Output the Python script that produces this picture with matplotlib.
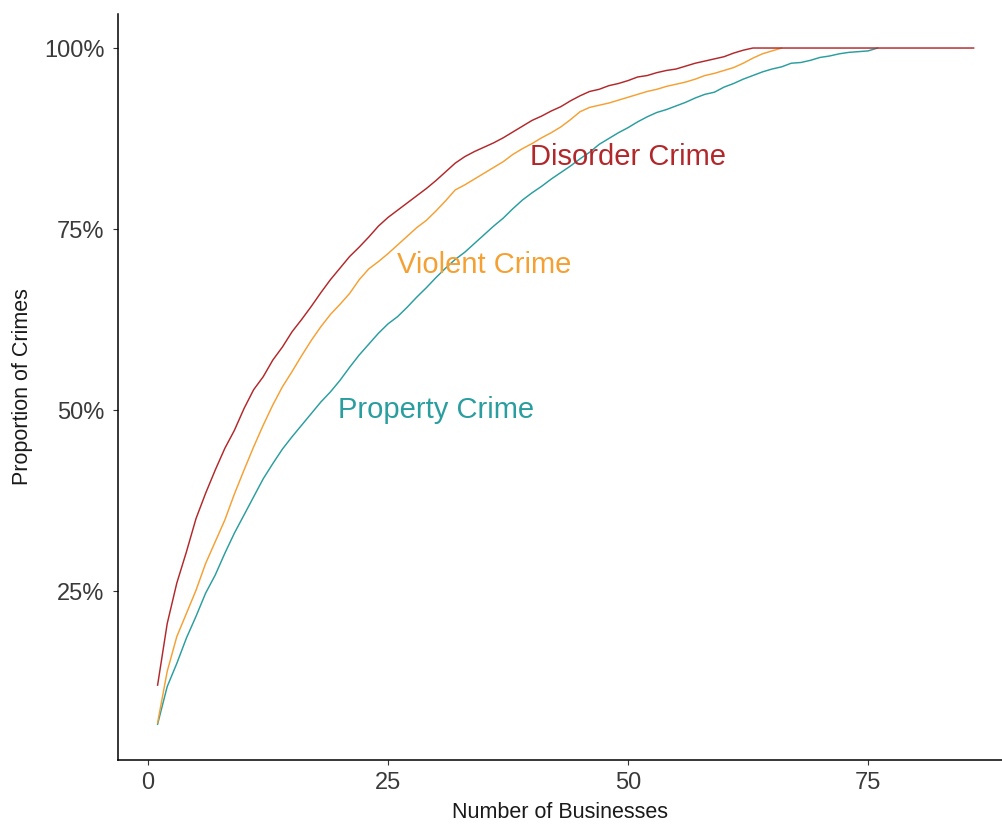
import matplotlib
matplotlib.use("Agg")
import matplotlib.pyplot as plt
import numpy as np

plt.rcParams["font.family"] = ["Liberation Sans", "DejaVu Sans"]

# Cumulative share of crimes (%) by number of businesses, ranked by crime count
disorder_pct = [
    12.0, 20.5, 26.1, 30.4, 35.0, 38.5, 41.7, 44.7, 47.2, 50.2,
    52.8, 54.6, 56.9, 58.7, 60.8, 62.5, 64.3, 66.2, 68.0, 69.6,
    71.2, 72.5, 73.9, 75.4, 76.6, 77.6, 78.6, 79.6, 80.6, 81.7,
    82.9, 84.1, 85.0, 85.7, 86.3, 86.9, 87.6, 88.4, 89.2, 90.0,
    90.6, 91.3, 91.9, 92.7, 93.4, 94.0, 94.3, 94.8, 95.1, 95.5,
    96.0, 96.2, 96.6, 96.9, 97.1, 97.5, 97.9, 98.2, 98.5, 98.8,
    99.3, 99.7, 100, 100, 100, 100, 100, 100, 100, 100,
    100, 100, 100, 100, 100, 100, 100, 100, 100, 100,
    100, 100, 100, 100, 100, 100,
]
violent_pct = [
    6.8, 13.9, 18.7, 21.9, 25.1, 28.8, 31.8, 34.8, 38.4, 41.7,
    44.9, 47.9, 50.7, 53.2, 55.3, 57.5, 59.6, 61.5, 63.2, 64.6,
    66.1, 68.0, 69.5, 70.5, 71.6, 72.8, 74.0, 75.2, 76.2, 77.5,
    78.9, 80.4, 81.1, 81.9, 82.7, 83.5, 84.3, 85.3, 86.1, 86.8,
    87.6, 88.3, 89.1, 90.1, 91.2, 91.8, 92.1, 92.4, 92.8, 93.2,
    93.6, 94.0, 94.3, 94.7, 95.0, 95.3, 95.7, 96.2, 96.5, 96.9,
    97.3, 97.9, 98.6, 99.2, 99.6, 100,
]
property_pct = [
    6.6, 11.8, 15.0, 18.5, 21.5, 24.7, 27.2, 30.2, 33.0, 35.5,
    38.0, 40.5, 42.6, 44.6, 46.3, 47.9, 49.5, 51.1, 52.5, 54.1,
    55.9, 57.6, 59.1, 60.6, 61.9, 62.9, 64.2, 65.6, 66.9, 68.3,
    69.6, 70.8, 71.8, 73.0, 74.2, 75.4, 76.5, 77.8, 79.0, 80.0,
    80.9, 81.9, 82.8, 83.7, 84.7, 85.6, 86.7, 87.5, 88.3, 89.0,
    89.8, 90.5, 91.1, 91.5, 92.0, 92.5, 93.1, 93.6, 93.9, 94.6,
    95.1, 95.7, 96.2, 96.7, 97.1, 97.4, 97.9, 98.0, 98.3, 98.7,
    98.9, 99.2, 99.4, 99.5, 99.6, 100,
]

series_names = ["Property Crime", "Violent Crime", "Disorder Crime"]
series_colors = ["#2A9D9F", "#F5A033", "#B2282A"]
label_x = [30, 35, 50]
label_y = [50, 70, 85]

x_ticks = [0, 25, 50, 75]
y_ticks = [25, 50, 75, 100]
y_tick_labels = ["25%", "50%", "75%", "100%"]

fig = plt.figure(figsize=(10.03, 8.27), dpi=100)
ax = fig.add_axes([118 / 1003, 1 - 760 / 827, 1 - 118 / 1003, (760 - 14) / 827])

all_series = [property_pct, violent_pct, disorder_pct]
for vals, color in zip(all_series, series_colors):
    xs = np.arange(1, len(vals) + 1)
    ax.plot(xs, vals, color=color, lw=1.05, solid_joinstyle="round")

for name, color, tx, ty in zip(series_names, series_colors, label_x, label_y):
    ax.text(tx, ty, name, color=color, fontsize=21, ha="center", va="center")

ax.set_xlim(-3.125, 89.06)
ax.set_ylim(1.66, 104.7)
ax.set_xticks(x_ticks)
ax.set_yticks(y_ticks)
ax.set_yticklabels(y_tick_labels)

for side in ["top", "right"]:
    ax.spines[side].set_visible(False)
for side in ["left", "bottom"]:
    ax.spines[side].set_linewidth(1.1)
    ax.spines[side].set_color("black")

ax.tick_params(axis="both", length=3.6, width=0.8, color="#333333",
               labelsize=17, labelcolor="#3a3a3a")
ax.tick_params(axis="x", pad=5)
ax.tick_params(axis="y", pad=6)

ax.set_xlabel("Number of Businesses", fontsize=15.5, color="#1a1a1a", labelpad=6)
ax.set_ylabel("Proportion of Crimes", fontsize=15.5, color="#1a1a1a", labelpad=8)

fig.savefig("out.png", dpi=100, facecolor="white")
